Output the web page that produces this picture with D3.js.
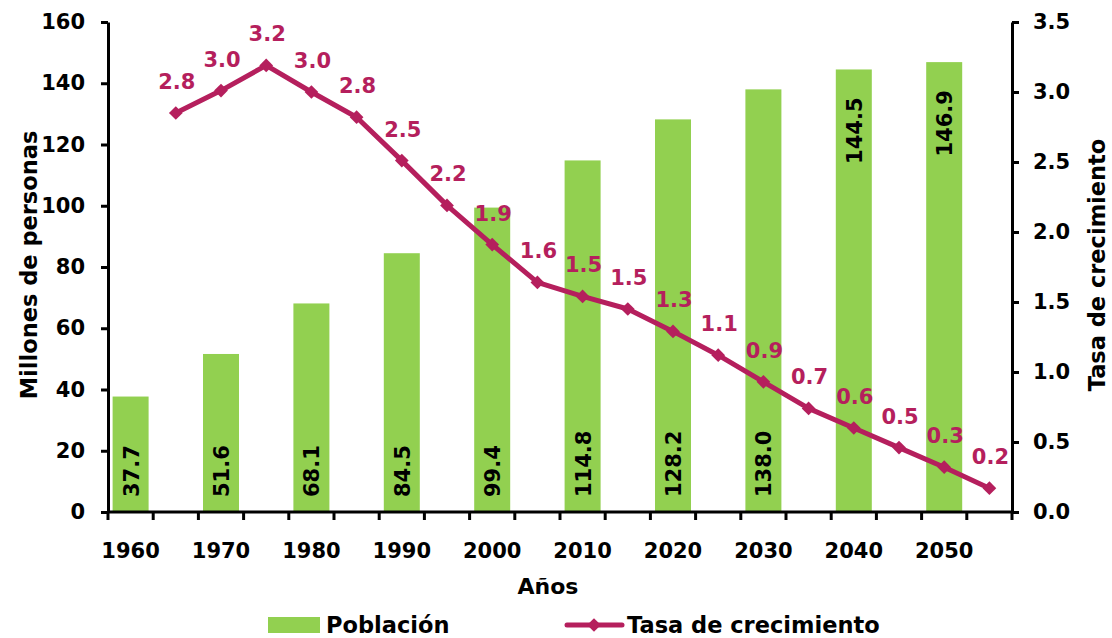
<!DOCTYPE html>
<html>
<head>
<meta charset="utf-8">
<script src="https://cdn.jsdelivr.net/npm/d3@7"></script>
<style>
  body { margin: 0; background: #fff; }
  svg text { font-family: "DejaVu Sans", sans-serif; font-weight: bold; }
</style>
</head>
<body>
<svg id="chart" width="1112" height="638"></svg>
<script>
// periods on the category axis (every 5 years)
const periods = d3.range(1960, 2060, 5);
// population bars (millions), one per decade
const barYears = [1960, 1970, 1980, 1990, 2000, 2010, 2020, 2030, 2040, 2050];
const poblacion = [37.7, 51.6, 68.1, 84.5, 99.4, 114.8, 128.2, 138.0, 144.5, 146.9];
const barLabelPos = ["base", "base", "base", "base", "base", "base", "base", "base", "top", "top"];
// growth rate, at the mid points
const tasaYears = [1965, 1970, 1975, 1980, 1985, 1990, 1995, 2000, 2005, 2010, 2015, 2020, 2025, 2030, 2035, 2040, 2045, 2050, 2055];
const tasa = [2.85, 3.01, 3.19, 3.0, 2.82, 2.51, 2.19, 1.91, 1.64, 1.54, 1.45, 1.29, 1.12, 0.93, 0.74, 0.6, 0.46, 0.32, 0.17];
const tasaLabels = ["2.8", "3.0", "3.2", "3.0", "2.8", "2.5", "2.2", "1.9", "1.6", "1.5", "1.5", "1.3", "1.1", "0.9", "0.7", "0.6", "0.5", "0.3", "0.2"];
const leftTicks = [0, 20, 40, 60, 80, 100, 120, 140, 160];
const rightTicks = [0, 0.5, 1, 1.5, 2, 2.5, 3, 3.5];

const green = "#92d050";
const magenta = "#b51f5d";

const svg = d3.select("#chart");
const plotL = 108, plotR = 1012, plotT = 22, plotB = 512;

const x = d3.scaleBand().domain(periods).range([plotL, plotR]);
const yL = d3.scaleLinear().domain([0, 160]).range([plotB, plotT]);
const yR = d3.scaleLinear().domain([0, 3.5]).range([plotB, plotT]);
const cx = d => x(d) + x.bandwidth() / 2;
const barW = 36;

// bars
svg.append("g")
  .selectAll("rect")
  .data(barYears)
  .enter()
  .append("rect")
  .attr("x", d => cx(d) - barW / 2)
  .attr("width", barW)
  .attr("y", (d, i) => yL(poblacion[i]))
  .attr("height", (d, i) => plotB - yL(poblacion[i]))
  .attr("fill", green);

// bar labels (rotated)
svg.append("g")
  .selectAll("text")
  .data(barYears)
  .enter()
  .append("text")
  .attr("transform", function (d, i) {
    const ty = barLabelPos[i] == "base" ? plotB - 15 : yL(poblacion[i]) + 28;
    return "translate(" + (cx(d) + 8) + "," + ty + ") rotate(-90)";
  })
  .attr("text-anchor", (d, i) => barLabelPos[i] == "base" ? "start" : "end")
  .style("font-size", "21px")
  .attr("fill", "#000")
  .text((d, i) => poblacion[i].toFixed(1));

// line
const line = d3.line()
  .x((d, i) => cx(tasaYears[i]))
  .y(d => yR(d));

svg.append("path")
  .datum(tasa)
  .attr("d", line)
  .attr("fill", "none")
  .attr("stroke", magenta)
  .attr("stroke-width", 5)
  .attr("stroke-linejoin", "round");

svg.append("g")
  .selectAll("path")
  .data(tasa)
  .enter()
  .append("path")
  .attr("d", d3.symbol().type(d3.symbolDiamond2).size(120))
  .attr("transform", (d, i) => "translate(" + cx(tasaYears[i]) + "," + yR(d) + ")")
  .attr("fill", magenta);

svg.append("g")
  .selectAll("text")
  .data(tasa)
  .enter()
  .append("text")
  .attr("x", (d, i) => cx(tasaYears[i]) + 1)
  .attr("y", d => yR(d) - 24)
  .attr("text-anchor", "middle")
  .attr("fill", magenta)
  .style("font-size", "21px")
  .text((d, i) => tasaLabels[i]);

// axes
const axisStyle = function (g) {
  g.select(".domain").attr("stroke", "#000").attr("stroke-width", 3);
  g.selectAll(".tick line").attr("stroke", "#000").attr("stroke-width", 3);
  g.selectAll(".tick text").attr("fill", "#000").style("font-size", "21px").style("font-family", "DejaVu Sans").style("font-weight", "bold");
};

svg.append("g")
  .attr("transform", "translate(" + plotL + ",0)")
  .call(d3.axisLeft(yL).tickValues(leftTicks).tickSize(7).tickSizeOuter(0).tickPadding(16))
  .call(axisStyle);

svg.append("g")
  .attr("transform", "translate(" + plotR + ",0)")
  .call(d3.axisRight(yR).tickValues(rightTicks).tickSize(7).tickSizeOuter(0).tickPadding(14).tickFormat(d3.format(".1f")))
  .call(axisStyle);

// category axis: ticks at boundaries, labels every decade
const gx = svg.append("g").attr("transform", "translate(0," + plotB + ")");
gx.append("line").attr("x1", plotL).attr("x2", plotR).attr("stroke", "#000").attr("stroke-width", 3);
gx.selectAll("line.tk")
  .data(periods.concat([2060]))
  .enter()
  .append("line")
  .attr("class", "tk")
  .attr("x1", d => d == 2060 ? plotR : x(d))
  .attr("x2", d => d == 2060 ? plotR : x(d))
  .attr("y1", 0)
  .attr("y2", 8)
  .attr("stroke", "#000")
  .attr("stroke-width", 3);
gx.selectAll("text")
  .data(barYears)
  .enter()
  .append("text")
  .attr("x", d => cx(d))
  .attr("y", 46)
  .attr("text-anchor", "middle")
  .style("font-size", "21px")
  .text(d => d);

// axis titles
svg.append("text")
  .attr("transform", "translate(37,265) rotate(-90)")
  .attr("text-anchor", "middle")
  .style("font-size", "22.5px")
  .text("Millones de personas");

svg.append("text")
  .attr("transform", "translate(1105,265) rotate(-90)")
  .attr("text-anchor", "middle")
  .style("font-size", "22.5px")
  .text("Tasa de crecimiento");

svg.append("text")
  .attr("x", 548)
  .attr("y", 594)
  .attr("text-anchor", "middle")
  .style("font-size", "22px")
  .text("Años");

// legend
const lg = svg.append("g");
lg.append("rect").attr("x", 268).attr("y", 617).attr("width", 52).attr("height", 16).attr("fill", green);
lg.append("text").attr("x", 326).attr("y", 633).style("font-size", "22.5px").text("Población");
lg.append("line").attr("x1", 567).attr("x2", 622).attr("y1", 625).attr("y2", 625)
  .attr("stroke", magenta).attr("stroke-width", 5).attr("stroke-linecap", "round");
lg.append("path").attr("d", d3.symbol().type(d3.symbolDiamond2).size(120))
  .attr("transform", "translate(594,625)").attr("fill", magenta);
lg.append("text").attr("x", 627).attr("y", 633).style("font-size", "22.5px").text("Tasa de crecimiento");
</script>
</body>
</html>
